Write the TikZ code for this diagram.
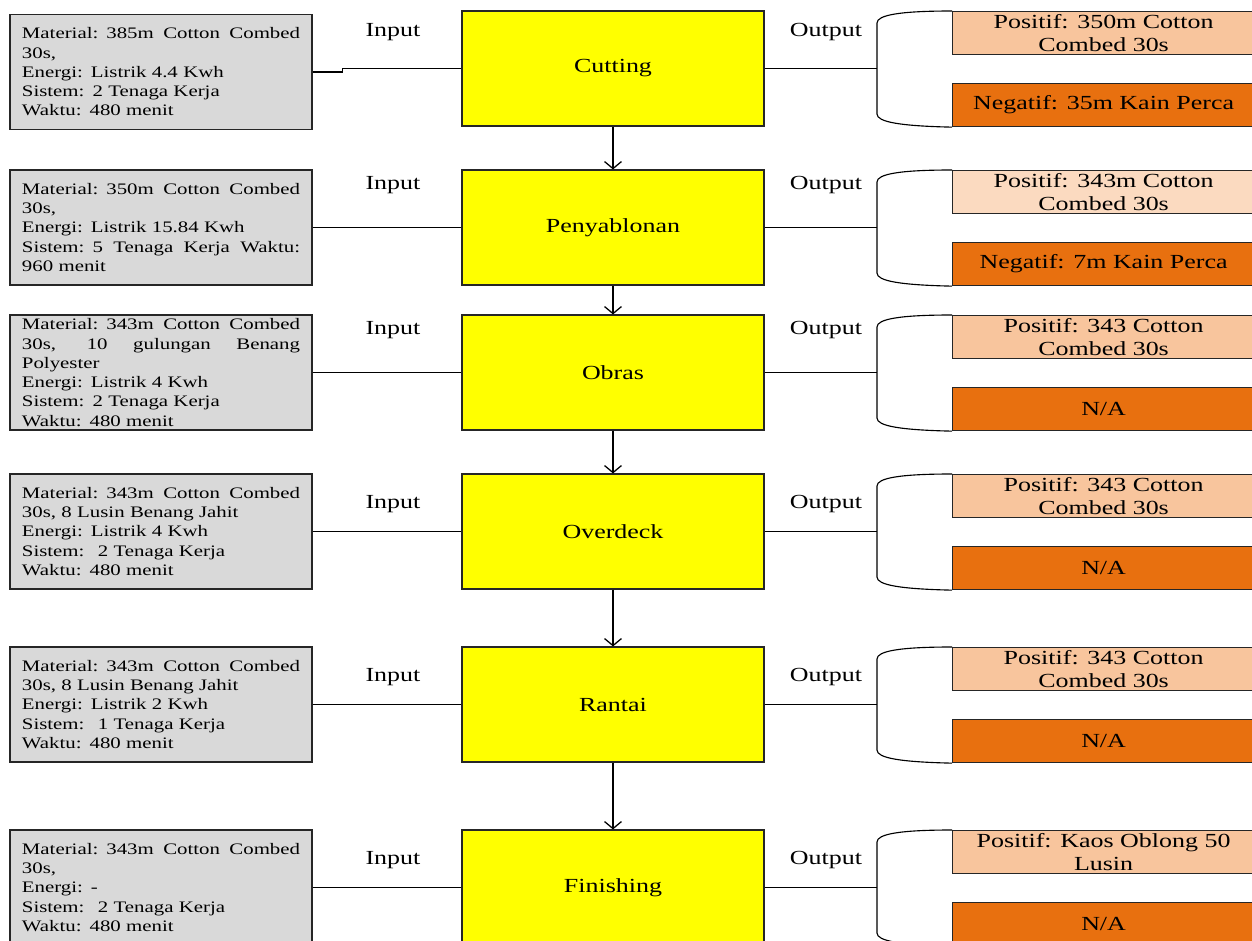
\documentclass[tikz,border=0pt]{standalone}
\usepackage{fontspec}
\setmainfont{Liberation Serif}[FakeStretch=1.3]
\usepackage{xcolor}
\usepackage{tikz}
\usetikzlibrary{arrows.meta}
\definecolor{boxgray}{HTML}{D9D9D9}
\definecolor{procyellow}{RGB}{255,255,0}
\definecolor{posorange}{HTML}{F8C59D}
\definecolor{poslight}{HTML}{FBDAC0}
\definecolor{negorange}{HTML}{E8700F}
\newcommand{\fillline}[1]{\leavevmode\hbox to 6.95cm{\spaceskip=\fontdimen2\font plus 1fil\relax #1}}
\newcommand{\infont}{\fontsize{11.4}{13.7}\selectfont}
\newcommand{\bigfont}{\fontsize{14.2}{17}\selectfont}

\begin{document}
\begin{tikzpicture}[x=0.025cm,y=-0.025cm,line width=0.8pt,
      inbox/.style={draw=black!85,fill=boxgray,minimum width=7.55cm,minimum height=2.875cm,
        text width=6.95cm,inner sep=0pt,align=left,font=\infont},
      proc/.style={draw=black!85,fill=procyellow,minimum width=7.55cm,minimum height=2.875cm,font=\bigfont},
      outbox/.style={draw=black!85,anchor=north west,minimum width=7.55cm,minimum height=1.075cm,
        inner sep=0pt,align=center,font=\bigfont},
      lbl/.style={font=\bigfont}]
            \useasboundingbox (0,0) rectangle (1252,941);
            \foreach \i/\ry/\gy/\ly/\name/\intext/\postext/\negtext/\pcol in {
              1/11/72/32/Cutting/{\fillline{Material: 385m Cotton Combed}\\30s,\\Energi: Listrik 4.4 Kwh\\Sistem: 2 Tenaga Kerja\\Waktu: 480 menit}/{Positif: 350m Cotton\\Combed 30s}/{Negatif: 35m Kain Perca}/posorange,
              2/170/227.5/185/Penyablonan/{\fillline{Material: 350m Cotton Combed}\\30s,\\Energi: Listrik 15.84 Kwh\\\fillline{Sistem: 5 Tenaga Kerja Waktu:}\\960 menit}/{Positif: 343m Cotton\\Combed 30s}/{Negatif: 7m Kain Perca}/poslight,
              3/315/372.5/330/Obras/{\fillline{Material: 343m Cotton Combed}\\\fillline{30s, 10 gulungan Benang}\\Polyester\\Energi: Listrik 4 Kwh\\Sistem: 2 Tenaga Kerja\\Waktu: 480 menit}/{Positif: 343 Cotton\\Combed 30s}/{N/A}/posorange,
              4/474/531.5/504/Overdeck/{\fillline{Material: 343m Cotton Combed}\\30s, 8 Lusin Benang Jahit\\Energi: Listrik 4 Kwh\\Sistem: \ 2 Tenaga Kerja\\Waktu: 480 menit}/{Positif: 343 Cotton\\Combed 30s}/{N/A}/posorange,
              5/647/704.5/677/Rantai/{\fillline{Material: 343m Cotton Combed}\\30s, 8 Lusin Benang Jahit\\Energi: Listrik 2 Kwh\\Sistem: \ 1 Tenaga Kerja\\Waktu: 480 menit}/{Positif: 343 Cotton\\Combed 30s}/{N/A}/posorange,
              6/830/887.5/860/Finishing/{\fillline{Material: 343m Cotton Combed}\\30s,\\Energi: -\\Sistem: \ 2 Tenaga Kerja\\Waktu: 480 menit}/{Positif: Kaos Oblong 50\\Lusin}/{N/A}/posorange}
            {
            \node[inbox] (in\i) at (161,\gy) {\intext};
            \node[proc] (p\i) at (613,\ry+57.5) {\name};
            \node[lbl] (inl\i) at (393,\ly) {Input};
            \node[lbl] (outl\i) at (826,\ly) {Output};
            \node[outbox,fill=\pcol] (pos\i) at (952,\ry) {\postext};
            \node[outbox,fill=negorange] (neg\i) at (952,\ry+72) {\negtext};
            \coordinate (br\i) at (877,\ry+57.5);
            \draw (in\i.east) -- +(30,0) |- (p\i.west);
            \draw (p\i.east) -- (br\i);
            \draw (pos\i.north west) .. controls (900,\ry) and (877,\ry+4) .. (877,\ry+12)
              -- (877,\ry+103) .. controls (877,\ry+111) and (900,\ry+115) .. (neg\i.south west);
            }
            \foreach \a/\b in {1/2,2/3,3/4,4/5,5/6}
            \draw[line width=0.9pt,-{Straight Barb[length=5pt,width=12pt]}] (p\a.south) -- (p\b.north);
      \end{tikzpicture}
\end{document}
